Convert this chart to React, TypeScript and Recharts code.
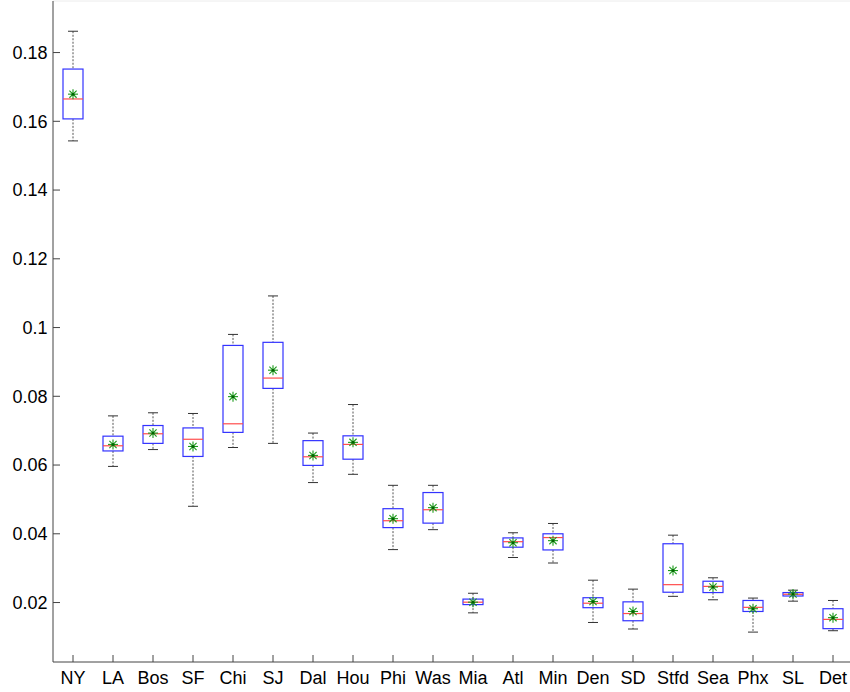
import React from 'react';
import { ComposedChart, Bar, Scatter, XAxis, YAxis, ReferenceLine } from 'recharts';

const cities = ['NY', 'LA', 'Bos', 'SF', 'Chi', 'SJ', 'Dal', 'Hou', 'Phi', 'Was', 'Mia', 'Atl', 'Min', 'Den', 'SD', 'Stfd', 'Sea', 'Phx', 'SL', 'Det'];
const whiskerHigh = [0.1862, 0.0743, 0.0752, 0.075, 0.098, 0.1092, 0.0693, 0.0776, 0.0541, 0.0541, 0.0227, 0.0403, 0.043, 0.0265, 0.0239, 0.0396, 0.0272, 0.0213, 0.0236, 0.0206];
const q3 = [0.1752, 0.0684, 0.0715, 0.0708, 0.0948, 0.0957, 0.0671, 0.0685, 0.0473, 0.052, 0.021, 0.0388, 0.04, 0.0214, 0.0202, 0.0371, 0.0262, 0.0206, 0.0229, 0.0182];
const medians = [0.1665, 0.0656, 0.0691, 0.0675, 0.072, 0.0853, 0.0624, 0.066, 0.0438, 0.047, 0.0201, 0.0377, 0.0389, 0.0198, 0.0168, 0.0252, 0.0247, 0.0186, 0.0224, 0.0151];
const q1 = [0.1607, 0.0641, 0.0663, 0.0625, 0.0695, 0.0823, 0.0599, 0.0617, 0.0418, 0.0431, 0.0194, 0.0361, 0.0353, 0.0185, 0.0147, 0.023, 0.0229, 0.0174, 0.0219, 0.0124];
const whiskerLow = [0.1543, 0.0596, 0.0645, 0.048, 0.0651, 0.0663, 0.0549, 0.0573, 0.0354, 0.0412, 0.017, 0.0331, 0.0315, 0.0142, 0.0123, 0.0218, 0.0208, 0.0114, 0.0204, 0.0118];
const means = [0.1679, 0.066, 0.0693, 0.0654, 0.0799, 0.0876, 0.0628, 0.0666, 0.0444, 0.0476, 0.0201, 0.0374, 0.038, 0.0203, 0.0174, 0.0293, 0.0245, 0.0182, 0.0225, 0.0156];

const yTicks = [0.02, 0.04, 0.06, 0.08, 0.1, 0.12, 0.14, 0.16, 0.18];
const yMin = 0.0027;
const yMax = 0.195;

const data = cities.map((name, i) => ({
    name,
    range: [whiskerLow[i], whiskerHigh[i]],
    lo: whiskerLow[i],
    q1: q1[i],
    med: medians[i],
    q3: q3[i],
    hi: whiskerHigh[i],
    mean: means[i],
}));

const font = '"Liberation Sans", Arial, sans-serif';

// bar spans the whiskers; inner values placed along the bar's own pixel span
const BoxShape = (props: any) => {
    const { x, y, width, height, payload } = props;
    if (!payload || height == null) return null;
    const { lo, hi } = payload;
    const py = (v: number) => y + ((hi - v) / (hi - lo)) * height;
    const cx = x + width / 2;
    const capHalf = width / 4;
    const top = py(payload.q3);
    const bottom = py(payload.q1);
    return (
        <g>
            <line x1={cx} x2={cx} y1={py(hi)} y2={top} stroke="#555" strokeDasharray="2 1.5" />
            <line x1={cx} x2={cx} y1={bottom} y2={py(lo)} stroke="#555" strokeDasharray="2 1.5" />
            <line x1={cx - capHalf} x2={cx + capHalf} y1={py(hi)} y2={py(hi)} stroke="#333" />
            <line x1={cx - capHalf} x2={cx + capHalf} y1={py(lo)} y2={py(lo)} stroke="#333" />
            <rect x={x} y={top} width={width} height={bottom - top} fill="none" stroke="#3333ff" strokeWidth={1.2} />
            <line x1={x} x2={x + width} y1={py(payload.med)} y2={py(payload.med)} stroke="#ff4d4d" strokeWidth={1.2} />
        </g>
    );
};

const Star = (props: any) => {
    const { cx, cy } = props;
    const r = 5;
    const d = r * 0.72;
    return (
        <g stroke="#1a9a1a" strokeWidth={1.1}>
            <line x1={cx - r} x2={cx + r} y1={cy} y2={cy} />
            <line x1={cx} x2={cx} y1={cy - r} y2={cy + r} />
            <line x1={cx - d} x2={cx + d} y1={cy - d} y2={cy + d} />
            <line x1={cx - d} x2={cx + d} y1={cy + d} y2={cy - d} />
            <circle cx={cx} cy={cy} r={1.5} fill="#006400" stroke="none" />
        </g>
    );
};

export default function App() {
    return (
        <div style={{ position: 'absolute', left: 0, top: 0, width: 860, height: 692, background: '#fff' }}>
            <ComposedChart
                width={860}
                height={692}
                data={data}
                margin={{ top: 1, right: 7, bottom: 0, left: 0 }}
            >
                <XAxis
                    dataKey="name"
                    height={30}
                    interval={0}
                    tickSize={-7}
                    tickMargin={16}
                    stroke="#444"
                    tick={{ fill: '#000', fontSize: 18, fontFamily: font }}
                />
                <YAxis
                    width={53}
                    domain={[yMin, yMax]}
                    ticks={yTicks}
                    tickSize={-7}
                    tickMargin={12.5}
                    stroke="#444"
                    tickFormatter={(v: number) => String(Number(v.toFixed(2)))}
                    tick={{ fill: '#000', fontSize: 18, fontFamily: font }}
                />
                <ReferenceLine y={yMax} stroke="#ececec" />
                <Bar dataKey="range" barSize={20} shape={<BoxShape />} isAnimationActive={false} />
                <Scatter dataKey="mean" shape={<Star />} isAnimationActive={false} />
            </ComposedChart>
        </div>
    );
}
